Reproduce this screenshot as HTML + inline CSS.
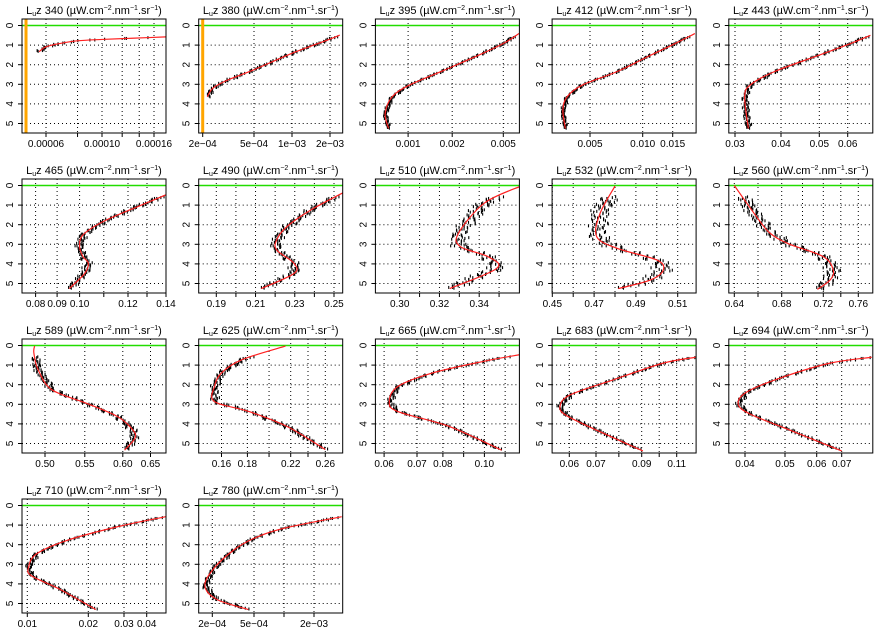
<!DOCTYPE html>
<html><head><meta charset="utf-8"><style>
html,body{margin:0;padding:0;background:#fff;}
svg{display:block;font-family:"Liberation Sans",Arial,sans-serif;}
</style></head><body>
<svg id="chart" width="882" height="641" viewBox="0 0 882 641" xmlns="http://www.w3.org/2000/svg"></svg>
<script>
const wavelengths = [340,380,395,412,443,465,490,510,532,560,589,625,665,683,694,710,780];
const scaleTypes = ["log","log","lin","lin","lin","lin","lin","lin","lin","lin","lin","lin","lin","lin","lin","lin","log"];
const axisAnchors = [
 [[6e-5,46],[1e-4,102],[1.6e-4,154]],
 [[2e-4,202.7],[5e-4,254],[1e-3,292],[2e-3,330]],
 [[0.001,408.1],[0.002,452.2],[0.005,503.3]],
 [[0.005,590],[0.010,642.7],[0.015,672.7]],
 [[0.03,735],[0.04,781],[0.05,819.3],[0.06,847.7]],
 [[0.08,35.6],[0.09,57.1],[0.10,79.6],[0.12,128],[0.14,166]],
 [[0.19,216.3],[0.25,334]],
 [[0.30,399.7],[0.34,479.2]],
 [[0.45,552.3],[0.51,677.7]],
 [[0.64,734.3],[0.68,781.7],[0.72,823.3],[0.76,858.3]],
 [[0.50,45],[0.55,84.8],[0.60,122.8],[0.65,150.5]],
 [[0.16,221.5],[0.18,247.4],[0.22,290.7],[0.26,325.3]],
 [[0.06,384.1],[0.07,417],[0.08,442.9],[0.10,484.4]],
 [[0.06,569.3],[0.07,596],[0.09,641.7],[0.11,676.7]],
 [[0.04,745],[0.05,785],[0.06,816.7],[0.07,841.7]],
 [[0.01,27.3],[0.02,88.3],[0.03,124],[0.04,146.7]],
 [[2e-4,212.3],[5e-4,254],[2e-3,314]]
];
const tickValues = [
 [6e-5,8e-5,1e-4,1.2e-4,1.4e-4,1.6e-4],
 [2e-4,5e-4,1e-3,2e-3],
 [0.001,0.002,0.005],
 [0.005,0.010,0.015],
 [0.03,0.04,0.05,0.06],
 [0.08,0.09,0.10,0.11,0.12,0.13,0.14],
 [0.19,0.20,0.21,0.22,0.23,0.24,0.25],
 [0.30,0.31,0.32,0.33,0.34,0.35],
 [0.45,0.46,0.47,0.48,0.49,0.50,0.51],
 [0.64,0.66,0.68,0.70,0.72,0.74,0.76],
 [0.50,0.55,0.60,0.65],
 [0.16,0.18,0.20,0.22,0.24,0.26],
 [0.06,0.07,0.08,0.09,0.10,0.11],
 [0.06,0.07,0.08,0.09,0.10,0.11],
 [0.04,0.05,0.06,0.07],
 [0.01,0.02,0.03,0.04],
 [2e-4,5e-4,1e-3,2e-3]
];
const tickLabels = [
 ["0.00006","","0.00010","","","0.00016"],
 ["2e\u221204","5e\u221204","1e\u221203","2e\u221203"],
 ["0.001","0.002","0.005"],
 ["0.005","0.010","0.015"],
 ["0.03","0.04","0.05","0.06"],
 ["0.08","0.09","0.10","","0.12","","0.14"],
 ["0.19","","0.21","","0.23","","0.25"],
 ["0.30","","0.32","","0.34",""],
 ["0.45","","0.47","","0.49","","0.51"],
 ["0.64","","0.68","","0.72","","0.76"],
 ["0.50","0.55","0.60","0.65"],
 ["0.16","0.18","","0.22","","0.26"],
 ["0.06","0.07","0.08","","0.10",""],
 ["0.06","0.07","","0.09","","0.11"],
 ["0.04","0.05","0.06","0.07"],
 ["0.01","0.02","0.03","0.04"],
 ["2e\u221204","5e\u221204","","2e\u221203"]
];
const curveDepths = [
 [1.34,1.09,0.92,0.78,0.71,0.65,0.58],
 [3.64,3.2,2.8,2.28,1.43,0.71,0.49],
 [5.25,4.49,3.64,3.04,2.28,1.51,0.92,0.41],
 [5.25,4.32,3.64,3.04,2.36,1.51,0.92,0.41],
 [5.25,3.64,3.04,2.36,1.51,0.92,0.5],
 [5.26,4.49,3.97,3.63,3.12,2.52,1.83,1.06,0.46],
 [5.26,4.49,3.97,3.29,2.77,2.09,1.23,0.38],
 [5.26,4.23,3.63,3.12,2.43,0.89,0.03],
 [5.26,4.83,4.32,3.8,3.2,2.6,1.44,0.03],
 [5.3,4.83,4.32,3.63,2.98,2.43,1.6,0.0],
 [5.34,4.74,4.32,3.63,2.95,2.26,1.23,0.38,0.03],
 [5.31,4.14,3.37,2.86,2.09,1.4,0.72,0.03],
 [5.34,4.14,3.37,2.86,2.09,1.4,0.8,0.46],
 [5.38,4.32,3.58,3.12,2.52,1.75,0.9,0.6],
 [5.38,4.32,3.5,2.98,2.38,1.66,0.9,0.6],
 [5.31,4.28,3.59,3.16,2.47,1.78,1.09,0.57],
 [5.31,4.79,4.1,3.24,2.29,1.69,1.17,0.57]
];
const curveValues = [
 [5.63e-5,6.0e-5,6.8e-5,8.0e-5,1.0e-4,1.31e-4,1.79e-4],
 [2.17e-4,2.4e-4,3.08e-4,4.9e-4,9.9e-4,1.97e-3,2.39e-3],
 [0.000557,0.00048,0.000637,0.00103,0.00182,0.00357,0.005,0.00592],
 [0.00266,0.00243,0.00282,0.00428,0.00753,0.01137,0.0154,0.0187],
 [0.0329,0.0321,0.0333,0.0385,0.050,0.061,0.068],
 [0.0954,0.1021,0.1036,0.1014,0.100,0.1014,0.1099,0.1255,0.1404],
 [0.2129,0.2296,0.2296,0.2208,0.2208,0.2261,0.2385,0.2544],
 [0.3252,0.3488,0.3444,0.3305,0.3296,0.3427,0.361],
 [0.4816,0.4967,0.5031,0.50,0.4808,0.4712,0.4728,0.480],
 [0.7143,0.7276,0.7314,0.72,0.6869,0.6701,0.6589,0.64],
 [0.6032,0.6217,0.6184,0.5932,0.5522,0.5087,0.4913,0.486,0.4869],
 [0.26,0.2169,0.1816,0.1546,0.1546,0.16,0.176,0.2152],
 [0.1083,0.0833,0.0642,0.0616,0.0642,0.076,0.10,0.1175],
 [0.0907,0.0703,0.059,0.0565,0.0603,0.0776,0.1023,0.1209],
 [0.07,0.0516,0.0413,0.0383,0.0404,0.0488,0.0653,0.082],
 [0.0221,0.01536,0.0107,0.0102,0.0115,0.0165,0.028,0.0484],
 [4.41e-4,2.2e-4,1.70e-4,2.05e-4,3.17e-4,4.93e-4,9.84e-4,3.79e-3]
];
const refLineValues = [5.0e-5,2e-4,null,null,null,null,null,null,null,null,null,null,null,null,null,null,null];
const scatterSpreadPx = [3,3,2,2,3,4,5,8,9,7,4,4,3,3,3,3,3];
const sampleDepths = [0.62,0.7,0.78,0.85,0.93,1.0,1.08,1.15,1.24,1.32,1.4,1.5,1.58,1.66,1.75,1.84,1.92,2.0,2.1,2.18,2.27,2.35,2.44,2.52,2.6,2.7,2.78,2.86,2.95,3.04,3.12,3.2,3.3,3.38,3.46,3.55,3.64,3.72,3.8,3.9,3.98,4.06,4.15,4.24,4.32,4.4,4.5,4.58,4.66,4.75,4.84,4.92,5.0,5.08,5.16,5.24];
const sampleResiduals = [0.4,-0.8,0.1,0.9,-0.3,0.6,-1.0,0.2,0.7,-0.5,0.3,-0.9,0.8,-0.2,0.5,-0.7,1.0,-0.4,0.0,0.6,-0.6,0.9,-0.1,0.3,-0.8,0.7,-0.3,0.2,-1.0,0.5,0.8,-0.5,0.1,-0.7,0.6,-0.2,0.9,-0.9,0.4,0.0,-0.4,0.7,-0.6,0.3,1.0,-0.8,0.2,-0.3,0.6,-1.0,0.5,0.1,-0.5,0.8,-0.2,0.4];

const NS = "http://www.w3.org/2000/svg";
const svg = document.getElementById("chart");
const COL_X0 = 22, COL_STEP = 176.7, ROW_Y0 = 19, ROW_STEP = 160, W = 144, H = 114;
function mk(tag, attrs, parent){ const e=document.createElementNS(NS,tag); for(const k in attrs) e.setAttribute(k,attrs[k]); (parent||svg).appendChild(e); return e; }
function makeXScale(i){
  const a = axisAnchors[i], lg = scaleTypes[i]==="log";
  const t = v => lg ? Math.log(v) : v;
  return v => {
    const tv=t(v); let k=0;
    while(k < a.length-2 && tv > t(a[k+1][0])) k++;
    const v0=t(a[k][0]), v1=t(a[k+1][0]);
    return a[k][1] + (tv-v0)/(v1-v0)*(a[k+1][1]-a[k][1]);
  };
}
function makeYScale(top){ return d => top + 6.5 + d*19.6; }
function smoothPath(pts){
  let d = "M"+pts[0][0].toFixed(2)+","+pts[0][1].toFixed(2);
  for(let k=0;k<pts.length-1;k++){
    const p0=pts[Math.max(0,k-1)], p1=pts[k], p2=pts[k+1], p3=pts[Math.min(pts.length-1,k+2)];
    const c1=[p1[0]+(p2[0]-p0[0])/6, p1[1]+(p2[1]-p0[1])/6];
    const c2=[p2[0]-(p3[0]-p1[0])/6, p2[1]-(p3[1]-p1[1])/6];
    d += " C"+c1[0].toFixed(2)+","+c1[1].toFixed(2)+" "+c2[0].toFixed(2)+","+c2[1].toFixed(2)+" "+p2[0].toFixed(2)+","+p2[1].toFixed(2);
  }
  return d;
}
function curveXAtDepth(px, d){
  const s = px.slice().sort((p,q)=>p[1]-q[1]);
  if(d < s[0][1] || d > s[s.length-1][1]) return null;
  for(let k=0;k<s.length-1;k++){
    if(d>=s[k][1] && d<=s[k+1][1]){ const f=(d-s[k][1])/((s[k+1][1]-s[k][1])||1); return s[k][0]+f*(s[k+1][0]-s[k][0]); }
  }
  return null;
}

wavelengths.forEach((wl,i)=>{
  const col=i%5, row=Math.floor(i/5);
  const L = COL_X0 + COL_STEP*col, T = ROW_Y0 + ROW_STEP*row;
  const x = makeXScale(i), y = makeYScale(T);
  const g = mk("g",{});
  
  
  const clipId="clip"+i;
  const cp = mk("clipPath",{id:clipId},g); mk("rect",{x:L,y:T,width:W,height:H},cp);

  const title = mk("text",{x:L+W/2,y:T-5,"text-anchor":"middle","font-size":"11"},g);
  
  
  title.innerHTML = 'L<tspan font-size="7" dy="2">u</tspan><tspan dy="-2">z '+wl+' (\u00b5W.cm</tspan><tspan font-size="7" dy="-4">\u22122</tspan><tspan dy="4">.nm</tspan><tspan font-size="7" dy="-4">\u22121</tspan><tspan dy="4">.sr</tspan><tspan font-size="7" dy="-4">\u22121</tspan><tspan dy="4">)</tspan>';

  const plot = mk("g",{"clip-path":"url(#"+clipId+")"},g);
  for(let d=1; d<=5; d++){
    const gl = mk("line",{x1:L,x2:L+W,y1:y(d),y2:y(d),stroke:"#000","stroke-width":"1","stroke-dasharray":"1,3"},plot);
    
    
  }
  tickValues[i].forEach(v=>{
    const gx=x(v);
    const gl = mk("line",{x1:gx,x2:gx,y1:T,y2:T+H,stroke:"#000","stroke-width":"1","stroke-dasharray":"1,3"},plot);
    
    
  });
  const sl = mk("line",{x1:L,x2:L+W,y1:y(0),y2:y(0),stroke:"#22dd00","stroke-width":"1.6"},plot);
  
  
  if(refLineValues[i]!==null){
    const rx=x(refLineValues[i]);
    const rl = mk("line",{x1:rx,x2:rx,y1:T,y2:T+H,stroke:"#ffa500","stroke-width":"3"},plot);
    
    
  }
  const pts = curveDepths[i].map((d,k)=>[x(curveValues[i][k]), y(d)]);
  const pxd = curveDepths[i].map((d,k)=>[x(curveValues[i][k]), d]);
  sampleDepths.forEach((d,k)=>{
    const n = sampleResiduals.length;
    const sets = [[0,1.0,0],[7,-0.8,0.04],[19,1.2,-0.04]];
    sets.forEach(st=>{
      const dd = d + st[2];
      const cx = curveXAtDepth(pxd,dd);
      if(cx===null) return;
      const px = cx + sampleResiduals[(k+st[0])%n]*scatterSpreadPx[i]*st[1];
      const m = mk("rect",{x:px-0.5,y:y(dd)-1.5,width:1.1,height:3,fill:"#000"},plot);
      
      
    });
  });
  const path = mk("path",{d:smoothPath(pts),fill:"none",stroke:"#ff2020","stroke-width":"1.2"},plot);
  
  

  const box = mk("rect",{x:L,y:T,width:W,height:H,fill:"none",stroke:"#000","stroke-width":"1"},g);
  
  
  for(let d=0; d<=5; d++){
    const tk = mk("line",{x1:L-4,x2:L,y1:y(d),y2:y(d),stroke:"#000"},g);
    
    
    const tl = mk("text",{x:L-9,y:y(d),"font-size":"10","text-anchor":"middle",transform:"rotate(-90 "+(L-9)+" "+y(d)+")"},g);
    
    
    tl.textContent = String(d);
  }
  tickValues[i].forEach((v,k)=>{
    const tx=x(v);
    if(tx<L-0.5||tx>L+W+0.5) return;
    const tk = mk("line",{x1:tx,x2:tx,y1:T+H,y2:T+H+4,stroke:"#000"},g);
    
    
    if(tickLabels[i][k]){
      const tl = mk("text",{x:tx,y:T+H+14,"font-size":"10","text-anchor":"middle"},g);
      
      
      tl.textContent = tickLabels[i][k];
    }
  });
});
</script>
</body></html>
